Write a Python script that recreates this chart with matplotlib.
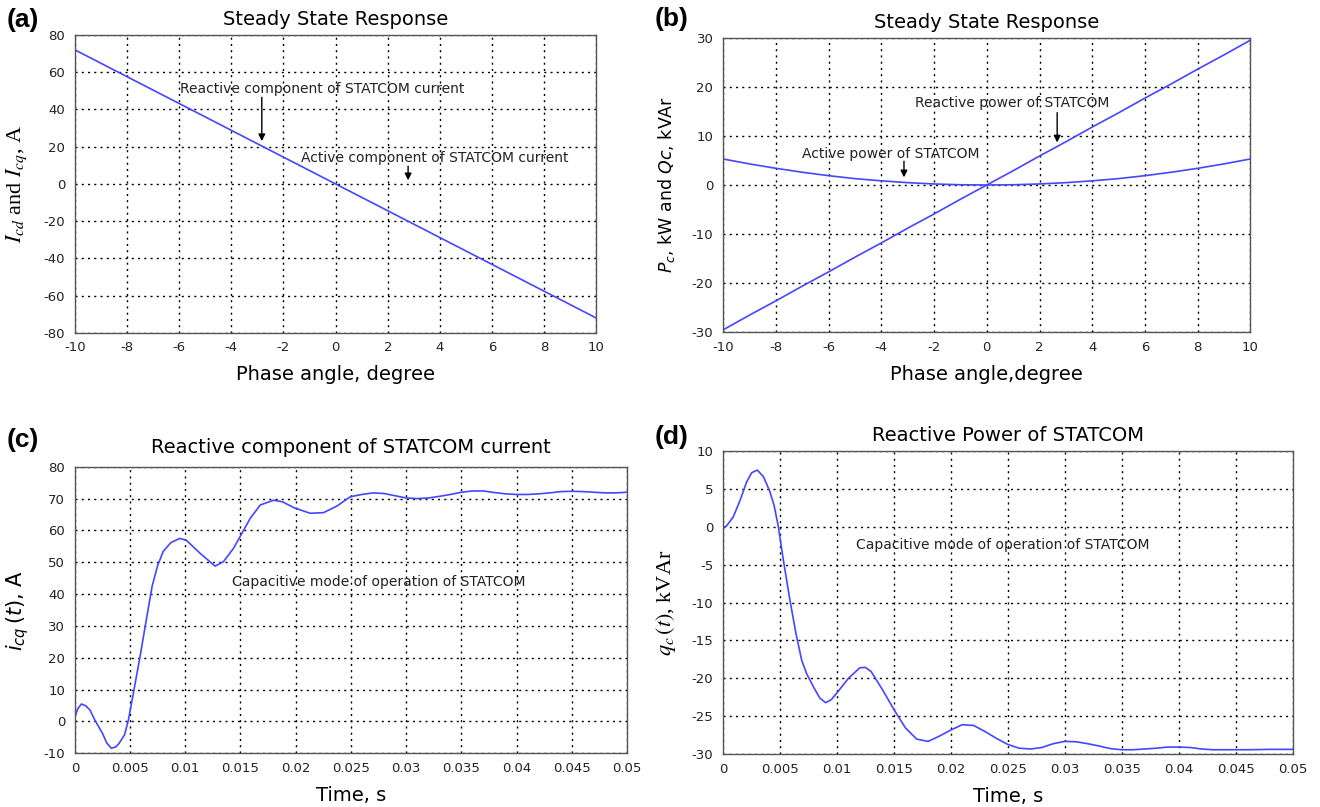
import matplotlib
matplotlib.use("Agg")
import matplotlib.pyplot as plt
import numpy as np

plt.rcParams['font.family'] = ['DejaVu Sans']
plt.rcParams['mathtext.fontset'] = 'dejavusans'
plt.rcParams['axes.unicode_minus'] = False

# (a) steady state currents vs phase angle
angle_a = [-10, -8, -6, -4, -2, 0, 2, 4, 6, 8, 10]
icq_a = [72, 57.6, 43.2, 28.8, 14.4, 0, -14.4, -28.8, -43.2, -57.6, -72]

# (b) steady state powers vs phase angle
angle_b = [-10, -9, -8, -7, -6, -5, -4, -3, -2, -1, 0, 1, 2, 3, 4, 5, 6, 7, 8, 9, 10]
q_b = [-29.5, -26.5, -23.6, -20.6, -17.7, -14.7, -11.8, -8.8, -5.9, -2.9, 0,
       2.9, 5.9, 8.8, 11.8, 14.7, 17.7, 20.6, 23.6, 26.5, 29.5]
p_b = [5.3, 4.3, 3.4, 2.6, 1.9, 1.3, 0.85, 0.48, 0.21, 0.05, 0,
       0.05, 0.21, 0.48, 0.85, 1.3, 1.9, 2.6, 3.4, 4.3, 5.3]

# (c) reactive current transient
t_c = [0, 0.0003, 0.0006, 0.001, 0.00137, 0.0018, 0.0025, 0.0029, 0.0033, 0.0037,
       0.004, 0.0045, 0.00485, 0.0053, 0.0059, 0.0065, 0.0070, 0.0075, 0.0080,
       0.0087, 0.0095, 0.0101, 0.01135, 0.0127, 0.01346, 0.01437, 0.01513, 0.01588,
       0.01679, 0.018, 0.0188, 0.0198, 0.0213, 0.02253, 0.02375, 0.02495, 0.026, 0.027,
       0.028, 0.029, 0.03, 0.031, 0.032, 0.033, 0.034, 0.035, 0.036, 0.037, 0.038,
       0.039, 0.04, 0.041, 0.042, 0.043, 0.044, 0.045, 0.046, 0.047, 0.048, 0.049, 0.05]
icq_c = [1.5, 4.2, 5.5, 4.9, 3.6, 0.5, -3.7, -6.8, -8.4, -8.0,
         -6.9, -4.2, 0.5, 8.9, 20.3, 32.5, 42.5, 49, 53.4,
         56.2, 57.5, 56.9, 52.8, 48.8, 50.2, 54.4, 59.1, 63.8,
         68, 69.5, 69, 67.2, 65.4, 65.6, 67.7, 70.6, 71.3, 71.8,
         71.6, 70.9, 70.2, 70, 70.2, 70.7, 71.3, 72, 72.4, 72.4, 71.9,
         71.5, 71.3, 71.3, 71.5, 71.8, 72.2, 72.3, 72.2, 72, 71.8, 71.8, 72]

# (d) reactive power transient
t_d = [0, 0.0003, 0.0009, 0.0015, 0.00207, 0.00251, 0.003, 0.00353, 0.00406, 0.00447,
       0.00485, 0.00529, 0.00587, 0.0064, 0.0069, 0.00734, 0.008, 0.0085, 0.009,
       0.0095, 0.01, 0.011, 0.012, 0.0125, 0.013, 0.014, 0.015, 0.016, 0.017, 0.018,
       0.019, 0.02, 0.021, 0.022, 0.023, 0.024, 0.025, 0.026, 0.027, 0.028, 0.029,
       0.03, 0.031, 0.032, 0.033, 0.034, 0.035, 0.036, 0.037, 0.038, 0.039, 0.04,
       0.041, 0.042, 0.043, 0.044, 0.046, 0.048, 0.05]
qc_d = [-0.1, 0.08, 1.3, 3.5, 5.9, 7.1, 7.45, 6.6, 4.8, 2.85,
        0, -4.4, -9.7, -14.1, -17.6, -19.4, -21.3, -22.6, -23.2,
        -22.8, -21.9, -20, -18.6, -18.55, -19.1, -21.5, -24.1, -26.5, -28, -28.3,
        -27.6, -26.8, -26.1, -26.2, -27, -27.9, -28.7, -29.2, -29.3, -29.1, -28.6,
        -28.3, -28.35, -28.6, -28.9, -29.25, -29.4, -29.4, -29.3, -29.2, -29.05, -29.05,
        -29.1, -29.3, -29.4, -29.4, -29.4, -29.35, -29.35]

blue = '#4646ff'
ann_size = 10
title_size = 14
xlab_size = 14


def style(ax, xticks, yticks, xlim, ylim, xfmt=None):
    ax.set_xlim(xlim)
    ax.set_ylim(ylim)
    ax.set_xticks(xticks)
    ax.set_yticks(yticks)
    if xfmt is not None:
        ax.set_xticklabels(xfmt)
    ax.grid(True, color='k', linestyle=(0, (1.5, 3)), linewidth=1.0)
    ax.tick_params(labelsize=9.5, length=0, colors='#222222')
    ax.tick_params(axis='x', pad=6)
    ax.tick_params(axis='y', pad=7)
    for s in ax.spines.values():
        s.set_color('#555555')
        s.set_linewidth(1.0)


def arrow(ax, x, y0, y1):
    ax.annotate('', xy=(x, y1), xytext=(x, y0),
                arrowprops=dict(arrowstyle='-|>', color='k', lw=1, mutation_scale=10))


fig = plt.figure(figsize=(13.2, 8.07), dpi=100)

# panel (a)
ax1 = fig.add_axes([0.0567, 0.5874, 0.3951, 0.3693])
ax1.plot(angle_a, icq_a, color=blue, lw=1.2)
style(ax1, range(-10, 11, 2), range(-80, 81, 20), (-10, 10), (-80, 80))
ax1.set_title('Steady State Response', fontsize=title_size, pad=7)
ax1.set_xlabel('Phase angle, degree', fontsize=xlab_size, labelpad=8)
ax1.set_ylabel(r'$I_{cd}$ and $I_{cq}$, A', fontsize=16, family='Liberation Serif',
               math_fontfamily='stix')
ax1.yaxis.set_label_coords(-0.087, 0.5)
arrow(ax1, -2.83, 48, 21.5)
ax1.text(-5.96, 50.8, 'Reactive component of STATCOM current', fontsize=ann_size,
         va='center', color='#222222')
arrow(ax1, 2.78, 11, 0.5)
ax1.text(-1.32, 14, 'Active component of STATCOM current', fontsize=ann_size,
         va='center', color='#222222')

# panel (b)
ax2 = fig.add_axes([0.5478, 0.5882, 0.3995, 0.3651])
ax2.plot(angle_b, q_b, color=blue, lw=1.2)
ax2.plot(angle_b, p_b, color=blue, lw=1.2)
style(ax2, range(-10, 11, 2), range(-30, 31, 10), (-10, 10), (-30, 30))
ax2.set_title('Steady State Response', fontsize=title_size, pad=7)
ax2.set_xlabel('Phase angle,degree', fontsize=xlab_size, labelpad=8)
ax2.set_ylabel(r'$P_c$, kW and $Qc$, kVAr', fontsize=12.5)
ax2.yaxis.set_label_coords(-0.087, 0.5)
arrow(ax2, 2.67, 15.3, 8.1)
ax2.text(-2.72, 16.8, 'Reactive power of STATCOM', fontsize=ann_size, va='center',
         color='#222222')
arrow(ax2, -3.14, 5.4, 1.0)
ax2.text(-7.0, 6.3, 'Active power of STATCOM', fontsize=ann_size, va='center',
         color='#222222')

tlabels = ['0', '0.005', '0.01', '0.015', '0.02', '0.025', '0.03', '0.035', '0.04', '0.045', '0.05']

# panel (c)
ax3 = fig.add_axes([0.0567, 0.0665, 0.4183, 0.3551])
ax3.plot(t_c, icq_c, color=blue, lw=1.2)
style(ax3, np.arange(11) * 0.005, range(-10, 81, 10), (0, 0.05), (-10, 80), tlabels)
ax3.set_title('Reactive component of STATCOM current', fontsize=title_size, pad=10)
ax3.set_xlabel('Time, s', fontsize=xlab_size, labelpad=8)
ax3.set_ylabel(r'$i_{cq}\,(t)$, A', fontsize=15)
ax3.yaxis.set_label_coords(-0.08, 0.5)
ax3.text(0.01425, 43.9, 'Capacitive mode of operation of STATCOM', fontsize=ann_size,
         va='center', color='#222222')

# panel (d)
ax4 = fig.add_axes([0.5478, 0.0653, 0.4314, 0.3762])
ax4.plot(t_d, qc_d, color=blue, lw=1.2)
style(ax4, np.arange(11) * 0.005, range(-30, 11, 5), (0, 0.05), (-30, 10), tlabels)
ax4.set_title('Reactive Power of STATCOM', fontsize=title_size, pad=7)
ax4.set_xlabel('Time, s', fontsize=xlab_size, labelpad=8)
ax4.set_ylabel(r'$q_c\,(t)$, kVAr', fontsize=16, family='Liberation Serif',
               math_fontfamily='stix')
ax4.yaxis.set_label_coords(-0.08, 0.5)
ax4.text(0.01164, -2.4, 'Capacitive mode of operation of STATCOM', fontsize=ann_size,
         va='center', color='#222222')

# panel letters
for x, y, s in [(0.005, 0.975, '(a)'), (0.496, 0.977, '(b)'),
                (0.005, 0.4548, '(c)'), (0.496, 0.4585, '(d)')]:
    fig.text(x, y, s, fontsize=19, fontweight='bold', va='center', family='Liberation Sans')

fig.savefig('out.png', dpi=100)
